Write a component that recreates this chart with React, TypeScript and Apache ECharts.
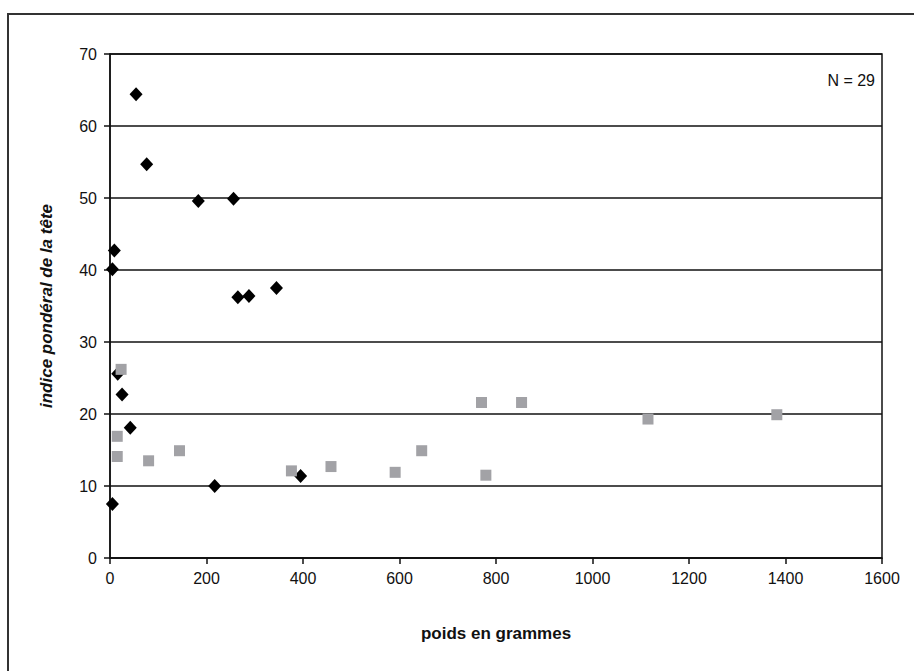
import React, { useEffect, useRef } from "react";
import * as echarts from "echarts";

const xTicks = [0, 200, 400, 600, 800, 1000, 1200, 1400, 1600];
const yTicks = [0, 10, 20, 30, 40, 50, 60, 70];

const blackX = [54, 76, 183, 256, 9, 5, 345, 265, 288, 16, 25, 42, 5, 217, 395];
const blackY = [64.4, 54.7, 49.6, 49.9, 42.7, 40.1, 37.5, 36.2, 36.4, 25.6, 22.7, 18.1, 7.5, 10.0, 11.4];

const grayX = [23, 15, 15, 80, 144, 376, 458, 591, 646, 770, 779, 853, 1115, 1382];
const grayY = [26.2, 16.9, 14.1, 13.5, 14.9, 12.1, 12.7, 11.9, 14.9, 21.6, 11.5, 21.6, 19.3, 19.9];

const xTitle = "poids en grammes";
const yTitle = "indice pondéral de la tête";
const note = "N = 29";

export default function App() {
  const ref = useRef<HTMLDivElement>(null);
  useEffect(() => {
    document.body.style.margin = "0";
    const chart = echarts.init(ref.current!, undefined, { renderer: "svg" });
    const font = "Liberation Sans, Arial, sans-serif";
    chart.setOption({
      animation: false,
      backgroundColor: "#ffffff",
      grid: {
        left: 110,
        right: 32,
        top: 54,
        bottom: 113,
        show: true,
        borderColor: "#111",
        borderWidth: 1.5,
        backgroundColor: "transparent",
      },
      graphic: [
        {
          type: "rect",
          shape: { x: 8, y: 14, width: 930, height: 700 },
          style: { fill: "none", stroke: "#333", lineWidth: 2 },
          silent: true,
        },
        {
          type: "text",
          x: 875,
          y: 80,
          style: {
            text: note,
            fill: "#111",
            font: `16px ${font}`,
            align: "right",
            verticalAlign: "middle",
          },
        },
      ],
      xAxis: {
        type: "value",
        min: xTicks[0],
        max: xTicks[xTicks.length - 1],
        interval: 200,
        name: xTitle,
        nameLocation: "middle",
        nameGap: 67,
        nameTextStyle: { fontFamily: font, fontSize: 17, fontWeight: "bold", color: "#111" },
        axisLine: { show: true, onZero: false, lineStyle: { color: "#111", width: 1.5 } },
        axisTick: { show: true, length: 6, inside: false, lineStyle: { color: "#111", width: 1.5 } },
        axisLabel: {
          fontFamily: font,
          fontSize: 16,
          color: "#111",
          margin: 12,
          formatter: (v: number) => String(v),
        },
        splitLine: { show: false },
      },
      yAxis: {
        type: "value",
        min: yTicks[0],
        max: yTicks[yTicks.length - 1],
        interval: 10,
        name: yTitle,
        nameLocation: "middle",
        nameGap: 55,
        nameTextStyle: {
          fontFamily: font,
          fontSize: 17,
          fontWeight: "bold",
          fontStyle: "italic",
          color: "#111",
        },
        axisLine: { show: true, lineStyle: { color: "#111", width: 1.5 } },
        axisTick: { show: true, length: 6, inside: false, lineStyle: { color: "#111", width: 1.5 } },
        axisLabel: {
          fontFamily: font,
          fontSize: 16,
          color: "#111",
          margin: 13,
          formatter: (v: number) => String(v),
        },
        splitLine: { show: true, lineStyle: { color: "#111", width: 1.5 } },
      },
      series: [
        {
          type: "scatter",
          name: "black",
          data: blackX.map((x, i) => [x, blackY[i]]),
          symbol: "diamond",
          symbolSize: [13, 14],
          itemStyle: { color: "#000", opacity: 1 },
          z: 3,
        },
        {
          type: "scatter",
          name: "gray",
          data: grayX.map((x, i) => [x, grayY[i]]),
          symbol: "rect",
          symbolSize: 11,
          itemStyle: { color: "#a2a2a6", opacity: 1 },
          z: 4,
        },
      ],
    });
    return () => chart.dispose();
  }, []);
  return <div ref={ref} style={{ width: 914, height: 671 }} />;
}
